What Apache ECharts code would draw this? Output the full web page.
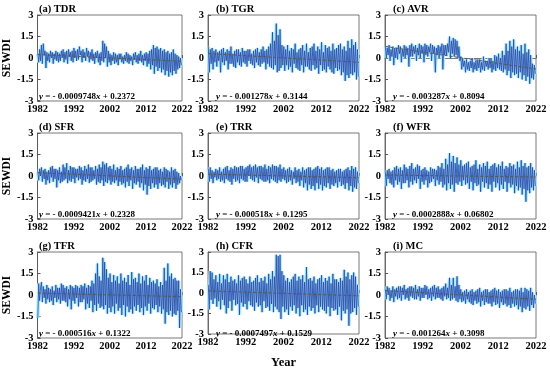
<!DOCTYPE html>
<html><head><meta charset="utf-8">
<script src="https://cdn.jsdelivr.net/npm/echarts@6/dist/echarts.min.js"></script>
<style>html,body{margin:0;padding:0;background:#fff}#c{width:550px;height:370px}</style>
</head><body><div id="c"></div>
<script>
const panelTitles = ['(a) TDR','(b) TGR','(c) AVR','(d) SFR','(e) TRR','(f) WFR','(g) TFR','(h) CFR','(i) MC'];
const slopes = [-0.0009748,-0.001278,-0.003287,-0.0009421,-0.000518,-0.0002888,-0.000516,-0.0007497,-0.001264];
const intercepts = [0.2372,0.3144,0.8094,0.2328,0.1295,0.06802,0.1322,0.1529,0.3098];
const slopeText = ['0.0009748','0.001278','0.003287','0.0009421','0.000518','0.0002888','0.000516','0.0007497','0.001264'];
const interceptText = ['0.2372','0.3144','0.8094','0.2328','0.1295','0.06802','0.1322','0.1529','0.3098'];
const xTickLabels = ['1982','1992','2002','2012','2022'];
const yTickLabels = ['-3','-1.5','0','1.5','3'];

const TDR = [0.3,-0.3,0.6,-0.2, 0.9,-0.4,1.0,0.2, 0.5,-0.7,0.4,-0.2, 0.3,-0.3,0.5,0.0, 0.4,-0.4,0.3,-0.1,
0.5,-0.2,0.4,-0.3, 0.3,-0.2,0.5,0.0, 0.6,-0.3,0.4,-0.1, 0.5,-0.4,0.6,0.1, 0.4,-0.2,0.5,-0.3,
0.7,0.0,0.5,-0.2, 0.6,-0.1,0.8,0.2, 0.5,-0.3,0.6,0.0, 0.4,-0.2,0.7,0.1, 0.5,-0.3,0.4,-0.1,
0.6,-0.2,0.3,-0.4, 0.4,0.0,0.5,-0.3, 0.3,-0.5,0.4,-0.2, 1.2,-0.3,1.0,0.0, 0.8,-0.6,0.5,-0.3,
0.3,-0.5,0.2,-0.2, 0.4,-0.4,0.3,-0.3, 0.2,-0.5,0.3,-0.1, 0.3,-0.3,0.1,-0.4, 0.2,-0.2,0.4,-0.3,
0.3,-0.4,0.2,-0.2, 0.1,-0.5,0.3,-0.1, 0.4,-0.3,0.2,-0.4, 0.3,-0.2,0.5,-0.3, 0.2,-0.5,0.3,-0.2,
0.4,-0.6,0.3,-0.4, 0.5,-0.8,0.6,-0.5, 0.9,-1.1,0.7,-0.6, 0.8,-0.9,0.6,-0.7, 0.7,-1.0,0.5,-0.8,
0.6,-1.2,0.4,-0.9, 0.5,-1.3,0.3,-1.0, 0.4,-1.2,0.6,-0.9, 0.3,-1.1,0.2,-0.8, 0.1,-0.7,0.0,-0.5];
const TGR = [0.8,-1.0,0.6,-0.4, 0.7,-0.8,0.5,-0.3, 0.6,-0.6,0.4,-0.2, 0.5,-1.0,0.6,-0.3, 0.7,-0.5,0.4,-0.2,
0.6,-0.8,0.5,-0.4, 0.8,-0.4,0.3,-0.6, 0.5,-0.7,0.6,-0.3, 0.6,-0.5,0.4,-0.6, 0.7,-0.3,0.5,-0.4,
0.5,-0.6,0.6,-0.2, 0.6,-0.4,0.3,-0.5, 0.5,-0.7,0.6,-0.3, 0.7,-0.5,0.4,-0.6, 0.6,-0.4,0.8,-0.3,
0.5,-0.8,0.6,-0.4, 0.8,-0.6,1.0,-0.7, 1.8,-0.8,1.2,-0.5, 2.4,-1.0,1.6,-0.9, 2.0,-0.7,0.9,-0.5,
0.8,-0.9,0.6,-0.5, 0.9,-0.8,0.5,-0.6, 0.7,-1.0,0.6,-0.4, 1.0,-0.7,0.4,-0.8, 0.6,-0.9,0.7,-0.5,
0.9,-1.0,0.5,-0.6, 1.0,-0.6,0.4,-0.8, 0.7,-0.9,0.8,-0.5, 1.0,-0.8,0.5,-0.7, 0.8,-1.1,0.6,-0.5,
1.1,-0.9,0.4,-0.8, 0.9,-1.0,0.7,-0.6, 0.8,-0.8,0.5,-1.0, 1.0,-1.1,0.6,-0.7, 0.7,-0.9,0.9,-0.8,
1.0,-1.2,0.6,-1.0, 0.8,-1.6,0.5,-1.2, 1.2,-1.4,0.7,-1.1, 1.3,-1.2,0.9,-1.0, 1.1,-1.5,0.6,-1.3];
const AVR = [0.8,0.0,0.7,0.2, 0.9,-0.2,0.6,0.1, 0.8,-0.5,0.7,0.0, 0.7,-0.1,0.9,0.3, 0.8,-0.3,0.6,0.1,
0.9,0.0,0.8,0.2, 0.7,-0.6,0.9,0.1, 1.0,0.1,0.8,0.3, 0.9,-0.2,0.7,0.2, 1.0,0.0,0.9,0.3,
0.8,-0.3,1.0,0.2, 0.9,0.1,0.8,0.4, 1.0,-0.2,0.9,0.3, 0.8,-1.0,0.7,0.2, 0.9,0.0,0.8,0.3,
1.0,-0.8,0.9,0.2, 0.9,0.2,1.0,0.4, 1.5,0.0,1.2,0.3, 1.4,0.1,1.3,0.2, 1.2,0.0,0.8,-0.2,
0.1,-0.8,0.0,-0.6, -0.2,-1.0,-0.1,-0.8, -0.3,-0.9,-0.2,-0.7, 0.0,-1.0,-0.3,-0.8, -0.2,-0.9,-0.1,-0.7,
-0.1,-1.0,-0.3,-0.8, 0.1,-0.9,-0.2,-0.6, -0.2,-0.8,0.0,-0.7, 0.0,-1.0,-0.2,-0.8, 0.2,-0.9,0.1,-0.7,
0.3,-0.8,0.0,-0.9, 0.5,-1.0,0.2,-0.8, 1.0,-1.2,0.5,-0.9, 1.2,-1.4,0.8,-1.0, 1.3,-1.2,0.6,-1.1,
0.8,-1.4,0.5,-1.0, 0.9,-1.5,0.3,-1.2, 1.0,-1.6,0.4,-1.3, 0.6,-1.8,0.2,-1.4, -0.4,-1.5,-0.5,-1.1];
const SFR = [0.3,-0.3,0.5,0.0, 0.6,-0.4,0.4,-0.2, 0.5,-0.6,0.3,-0.3, 0.4,-0.5,0.6,-0.1, 0.7,-0.4,0.5,-0.2,
0.5,-0.8,0.4,-0.3, 0.6,-0.5,0.3,-0.4, 0.8,-0.3,0.6,-0.2, 0.9,-0.5,0.4,-0.3, 0.7,-0.4,0.6,-0.2,
0.6,-0.5,0.5,-0.1, 0.5,-0.3,0.7,-0.2, 0.6,-0.6,0.4,-0.3, 0.7,-0.4,0.5,-0.2, 0.8,-0.5,0.6,-0.4,
0.6,-0.3,0.4,-0.2, 0.7,-0.6,0.5,-0.4, 0.8,-0.5,0.6,-0.3, 1.0,-0.7,0.8,-0.4, 0.9,-0.5,0.6,-0.3,
0.7,-0.6,0.5,-0.4, 0.8,-0.5,0.4,-0.3, 0.6,-0.7,0.5,-0.4, 0.7,-0.6,0.4,-0.5, 0.5,-0.8,0.6,-0.4,
0.8,-0.7,0.5,-0.3, 0.6,-0.9,0.4,-0.5, 0.7,-0.6,0.5,-0.4, 0.5,-0.8,0.6,-0.5, 0.8,-1.0,0.4,-0.6,
0.6,-1.3,0.5,-0.7, 0.7,-0.9,0.4,-0.5, 0.5,-0.8,0.6,-0.6, 0.6,-0.9,0.4,-0.5, 0.5,-0.7,0.3,-0.6,
0.6,-0.8,0.5,-0.4, 0.4,-0.9,0.3,-0.6, 0.6,-0.8,0.4,-0.5, 0.5,-0.9,0.3,-0.6, 0.2,-0.5,0.0,-0.3];
const TRR = [0.5,-0.4,0.6,-0.2, 0.4,-0.5,0.3,-0.1, 0.5,-0.3,0.4,-0.2, 0.6,-0.4,0.3,-0.3, 0.5,-0.5,0.6,-0.2,
0.7,-0.3,0.4,-0.4, 0.6,-0.6,0.5,-0.2, 0.7,-0.4,0.6,-0.3, 0.6,-0.5,0.7,-0.2, 0.7,-0.3,0.5,-0.4,
0.6,-0.4,0.7,0.0, 0.8,-0.2,0.6,-0.3, 0.7,-0.4,0.8,-0.1, 0.6,-0.5,0.7,-0.2, 0.7,-0.3,0.6,-0.4,
0.8,-0.4,0.5,-0.3, 0.7,-0.5,0.6,-0.2, 0.8,-0.3,0.7,-0.4, 0.7,-0.5,0.6,-0.3, 0.8,-0.4,0.5,-0.2,
0.6,-0.3,0.4,-0.5, 0.5,-0.4,0.6,-0.3, 0.4,-0.6,0.3,-0.2, 0.6,-0.5,0.4,-0.4, 0.5,-0.7,0.3,-0.3,
0.6,-0.8,0.4,-0.5, 0.5,-1.0,0.6,-0.6, 0.6,-0.9,0.4,-0.7, 0.5,-1.0,0.6,-0.5, 0.7,-0.9,0.5,-0.6,
0.6,-1.0,0.4,-0.7, 0.5,-0.8,0.6,-0.5, 0.6,-0.9,0.4,-0.6, 0.5,-0.7,0.3,-0.5, 0.4,-0.8,0.5,-0.4,
0.5,-0.7,0.3,-0.6, 0.4,-0.9,0.5,-0.5, 0.6,-1.0,0.4,-0.7, 0.7,-1.1,0.5,-0.8, 0.6,-0.9,0.3,-0.5];
const WFR = [0.3,-0.7,0.4,-0.2, 0.5,-0.5,0.3,-0.6, 0.4,-0.8,0.6,-0.3, 0.7,-0.6,0.5,-0.4, 0.6,-0.9,0.4,-0.5,
0.8,-0.5,0.6,-0.3, 0.5,-0.8,0.7,-0.4, 0.9,-0.6,0.5,-0.3, 0.6,-0.5,0.8,-0.2, 0.7,-0.9,0.4,-0.4,
0.5,-0.6,0.6,-0.3, 0.4,-0.8,0.3,-0.5, 0.6,-0.4,0.5,-0.2, 0.5,-0.7,0.4,-0.3, 0.7,-0.6,0.6,-0.4,
0.9,-0.8,0.5,-0.6, 1.2,-1.0,0.8,-0.5, 1.6,-0.9,1.0,-0.6, 1.4,-1.1,0.9,-0.5, 1.3,-0.6,0.8,-0.4,
1.1,-0.7,0.7,-0.3, 0.8,-0.6,0.9,-0.5, 1.0,-0.9,0.6,-0.4, 0.7,-1.0,0.8,-0.5, 1.1,-0.7,0.5,-0.6,
0.8,-1.1,0.6,-0.4, 0.9,-0.8,0.7,-0.5, 1.0,-0.9,0.5,-0.6, 0.7,-1.1,0.8,-0.4, 0.9,-0.8,0.6,-0.5,
0.8,-1.0,0.7,-0.6, 1.0,-0.9,0.5,-0.4, 0.7,-1.1,0.6,-0.5, 0.9,-0.8,0.7,-0.6, 0.8,-1.2,0.5,-0.7,
1.0,-1.0,0.6,-0.8, 1.1,-1.3,0.7,-0.9, 0.9,-1.8,0.6,-1.0, 0.7,-1.2,0.9,-0.8, 0.6,-1.0,0.4,-0.7];
const TFR = [-1.6,0.8,-0.4,0.5, 0.9,-0.5,0.6,-0.2, 0.4,-0.6,0.7,-0.3, 0.5,-0.5,0.4,-0.4, 0.6,-0.7,0.3,-0.2,
0.7,-0.5,0.5,-0.3, 0.5,-0.6,0.8,-0.4, 0.7,-0.4,0.5,-0.5, 0.6,-0.8,0.4,-0.3, 0.7,-1.0,0.6,-0.4,
0.5,-0.6,0.7,-0.2, 0.6,-0.8,0.5,-0.5, 0.7,-0.5,0.6,-0.3, 0.8,-1.0,0.5,-0.6, 0.7,-0.9,0.6,-0.4,
1.0,-1.2,0.8,-0.7, 1.5,-1.1,2.2,-0.6, 1.3,-0.9,1.0,-0.8, 2.6,-1.0,2.3,-0.7, 1.8,-1.3,1.2,-0.9,
1.5,-1.2,0.9,-0.8, 1.4,-1.3,1.0,-0.6, 1.3,-1.1,0.8,-0.9, 1.5,-1.4,1.0,-0.7, 1.2,-1.5,0.9,-0.8,
1.4,-1.2,0.7,-1.0, 1.6,-1.3,1.1,-0.8, 1.2,-1.1,0.9,-0.7, 1.5,-1.2,0.8,-0.9, 1.3,-1.4,1.0,-0.8,
1.4,-1.1,0.7,-0.6, 1.2,-1.3,0.9,-0.9, 1.0,-1.0,0.8,-0.7, 1.1,-1.2,0.6,-0.8, 0.9,-1.3,0.7,-1.0,
1.9,-2.0,1.0,-1.2, 2.2,-1.4,1.3,-1.1, 1.5,-1.5,1.1,-1.3, 1.2,-1.4,1.0,-1.1, 1.0,-2.3,0.4,-1.2];
const CFR = [0.6,-1.2,1.6,-0.5, 1.5,-0.8,1.0,-0.4, 1.3,-1.0,0.8,-0.6, 1.4,-1.2,0.7,-0.5, 1.3,-0.9,1.0,-1.5,
1.4,-1.1,0.8,-0.6, 1.2,-1.3,0.9,-0.5, 1.0,-0.9,0.7,-0.8, 1.3,-1.6,0.9,-0.7, 1.1,-1.0,1.2,-0.8,
1.0,-1.2,0.7,-0.6, 1.2,-0.9,0.8,-1.0, 0.9,-1.3,1.1,-0.7, 1.3,-1.0,0.8,-0.9, 1.1,-1.4,0.9,-0.6,
1.2,-1.1,0.7,-1.0, 1.4,-1.3,1.0,-0.8, 1.6,-1.4,1.2,-1.0, 2.8,-1.2,2.7,-1.4, 2.8,-1.9,1.6,-1.0,
1.3,-1.4,0.9,-1.2, 1.1,-1.6,0.8,-1.0, 1.0,-1.3,1.2,-0.9, 1.4,-1.5,0.9,-1.1, 1.2,-1.7,1.0,-0.9,
1.3,-1.4,0.8,-1.2, 1.9,-1.6,1.0,-1.0, 1.1,-1.3,0.9,-1.1, 1.2,-1.5,0.7,-0.9, 1.0,-1.4,1.1,-1.0,
1.3,-1.2,0.8,-1.3, 1.1,-1.5,0.9,-1.0, 1.2,-1.7,0.7,-1.1, 1.4,-1.3,1.0,-1.2, 1.0,-1.6,0.8,-1.0,
1.1,-2.0,0.9,-1.3, 1.7,-1.5,1.2,-1.2, 1.5,-2.4,1.0,-1.5, 1.3,-1.4,1.5,-1.1, 1.2,-1.6,0.6,-1.0];
const MC = [0.4,-0.3,0.6,0.0, 0.5,-0.4,0.3,-0.2, 0.6,-0.5,0.4,-0.1, 0.5,-0.3,0.6,-0.2, 0.6,-0.4,0.5,0.0,
0.7,-0.3,0.4,-0.2, 0.5,-0.4,0.6,-0.1, 0.6,-0.2,0.5,-0.3, 0.7,-0.3,0.4,-0.1, 0.6,-0.4,0.5,-0.2,
0.5,-0.2,0.7,0.0, 0.6,-0.3,0.4,-0.2, 0.5,-0.4,0.6,-0.1, 0.7,-0.3,0.5,-0.2, 0.6,-0.2,0.4,-0.3,
0.5,-0.4,0.6,-0.1, 0.8,-0.3,0.5,-0.2, 1.2,-0.4,0.7,-0.3, 1.2,-0.2,0.6,-0.4, 1.3,-0.5,0.7,-0.3,
0.4,-0.5,0.2,-0.4, 0.3,-0.6,0.4,-0.3, 0.2,-0.5,0.3,-0.6, 0.4,-0.7,0.2,-0.4, 0.3,-0.6,0.4,-0.5,
0.5,-0.8,0.2,-0.4, 0.3,-0.7,0.4,-0.5, 0.4,-0.6,0.2,-0.6, 0.3,-0.8,0.4,-0.5, 0.5,-0.7,0.3,-0.6,
0.4,-0.9,0.2,-0.5, 0.3,-0.7,0.4,-0.6, 0.4,-0.8,0.3,-0.7, 0.5,-0.9,0.2,-0.6, 0.3,-0.8,0.4,-0.7,
0.4,-1.0,0.3,-0.8, 0.5,-1.2,0.2,-0.9, 0.5,-1.0,0.4,-0.8, 0.3,-1.1,0.5,-0.7, 0.2,-0.9,0.0,-0.6];
const seriesData = [TDR,TGR,AVR,SFR,TRR,WFR,TFR,CFR,MC];

const chart = echarts.init(document.getElementById('c'));
const FONT = '"Liberation Serif", "DejaVu Serif", serif';
const colLeft = [31, 208, 385];
const rowTop = [15, 133, 252];
const W = 151, H = 86;
const grid = [], xAxis = [], yAxis = [], series = [], title = [];
for (let k = 0; k < 9; k++) {
  const r = Math.floor(k / 3), c = k % 3;
  grid.push({left: colLeft[c], top: rowTop[r], width: W, height: H, show: true, borderColor: '#555', borderWidth: 0.8, backgroundColor: 'transparent'});
  xAxis.push({type: 'value', gridIndex: k, min: 0, max: 480, interval: 120,
    axisLine: {show: true, lineStyle: {color: '#555', width: 0.8}},
    axisTick: {inside: true, length: 3, lineStyle: {color: '#555'}},
    splitLine: {show: false},
    axisLabel: {margin: 3, color: '#000', fontFamily: FONT, fontWeight: 'bold', fontSize: 10.5,
      formatter: v => xTickLabels[Math.round(v / 120)]},
    name: r === 2 && c === 1 ? 'Year' : '', nameLocation: 'middle', nameGap: 22,
    nameTextStyle: {color: '#000', fontFamily: FONT, fontWeight: 'bold', fontSize: 12.5}});
  yAxis.push({type: 'value', gridIndex: k, min: -3, max: 3, interval: 1.5,
    axisLine: {show: true, lineStyle: {color: '#555', width: 0.8}},
    axisTick: {inside: true, length: 3, lineStyle: {color: '#555'}},
    splitLine: {show: false},
    axisLabel: {margin: 4, color: '#000', fontFamily: FONT, fontWeight: 'bold', fontSize: 10.5,
      formatter: v => yTickLabels[Math.round((v + 3) / 1.5)]},
    name: c === 0 ? 'SEWDI' : '', nameLocation: 'middle', nameGap: 16,
    nameTextStyle: {color: '#000', fontFamily: FONT, fontWeight: 'bold', fontSize: 11.5}});
  const pts = seriesData[k].map((v, i) => [i * 3 + 1, v]);
  series.push({type: 'line', xAxisIndex: k, yAxisIndex: k, data: pts, showSymbol: false, silent: true,
    lineStyle: {color: '#aeeefa', width: 3.5}, z: 1, animation: false});
  series.push({type: 'line', xAxisIndex: k, yAxisIndex: k, data: pts, showSymbol: false, silent: true,
    lineStyle: {color: '#2343a8', width: 0.8}, z: 2, animation: false});
  series.push({type: 'line', xAxisIndex: k, yAxisIndex: k, showSymbol: false, silent: true,
    data: [[1, slopes[k] * 1 + intercepts[k]], [480, slopes[k] * 480 + intercepts[k]]],
    lineStyle: {color: '#555', width: 1, type: [3, 2]}, z: 3, animation: false});
  title.push({text: panelTitles[k], left: colLeft[c] + 3, top: rowTop[r] - 16,
    textStyle: {fontFamily: FONT, fontWeight: 'bold', fontSize: 10.5, color: '#000'}});
  title.push({text: '{i|y} = - ' + slopeText[k] + '{i|x} + ' + interceptText[k],
    left: colLeft[c] + 3, top: rowTop[r] + H - 14,
    textStyle: {fontFamily: FONT, fontWeight: 'bold', fontSize: 9, color: '#000',
      rich: {i: {fontFamily: FONT, fontWeight: 'bold', fontStyle: 'italic', fontSize: 9, color: '#000'}}}});
}
chart.setOption({animation: false, grid, xAxis, yAxis, series, title});
</script></body></html>
